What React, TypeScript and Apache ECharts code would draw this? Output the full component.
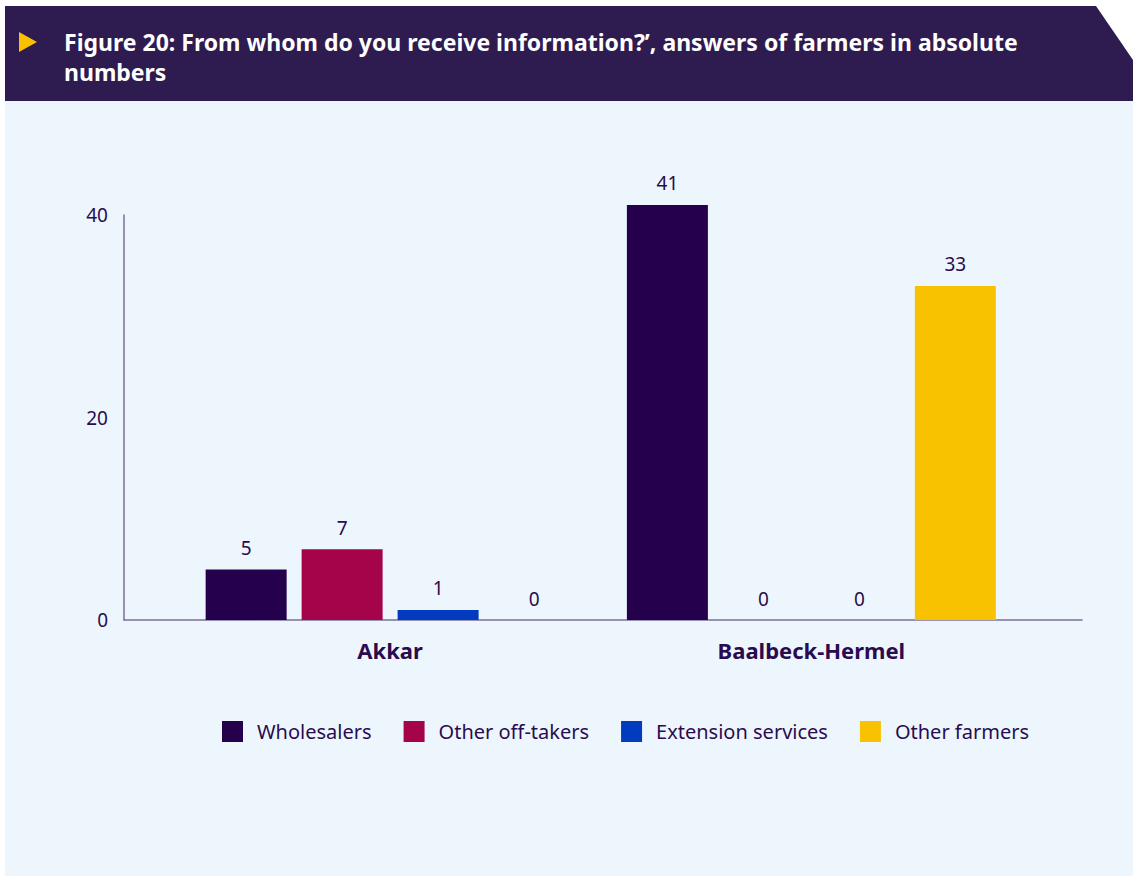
import React, { useEffect, useRef } from "react";
import * as echarts from "echarts";

const regions = ["Akkar", "Baalbeck-Hermel"];
const seriesNames = ["Wholesalers", "Other off-takers", "Extension services", "Other farmers"];
const wholesalers = [5, 41];
const otherOffTakers = [7, 0];
const extensionServices = [1, 0];
const otherFarmers = [0, 33];
const seriesColors = ["#25004c", "#a5044a", "#003cbd", "#f9c200"];
const yTicks = { min: 0, max: 40, interval: 20 };
const titleLines = [
  "Figure 20: From whom do you receive information?’, answers of farmers in absolute",
  "numbers",
];

const TEXT = "#2a0b50";
const FONT = "'Noto Sans', 'Open Sans', sans-serif";

export default function App() {
  const ref = useRef<HTMLDivElement>(null);
  useEffect(() => {
    document.body.style.margin = "0";
    const chart = echarts.init(ref.current!, null, { renderer: "svg" });
    const values = [wholesalers, otherOffTakers, extensionServices, otherFarmers];
    chart.setOption({
      animation: false,
      backgroundColor: "#ffffff",
      textStyle: { fontFamily: FONT },
      graphic: [
        {
          type: "rect",
          z: -10,
          shape: { x: 5, y: 100, width: 1128, height: 776 },
          style: { fill: "#eef6fd" },
        },
        {
          type: "polygon",
          z: -10,
          shape: { points: [[5, 6], [1096, 6], [1133, 60], [1133, 101], [5, 101]] },
          style: { fill: "#2e1b4f" },
        },
        {
          type: "polygon",
          shape: { points: [[19, 32], [37, 42], [19, 52]] },
          style: { fill: "#f9c200" },
        },
        ...titleLines.map((t, i) => ({
          type: "text",
          x: 64,
          y: 42 + i * 30,
          style: {
            text: t,
            fill: "#ffffff",
            font: `bold 23px ${FONT}`,
            verticalAlign: "middle",
            align: "left",
          },
        })),
      ],
      legend: {
        left: 217,
        top: 716,
        itemWidth: 21,
        itemHeight: 21,
        itemGap: 32,
        icon: "rect",
        data: seriesNames,
        textStyle: { fontSize: 20, color: TEXT, fontFamily: FONT, padding: [0, 0, 0, 9] },
      },
      grid: [
        { left: 124, right: 51, top: 215, bottom: 256 },
        { left: 179.5, right: 111, top: 215, bottom: 256 },
      ],
      xAxis: [
        {
          type: "category",
          gridIndex: 0,
          data: regions,
          axisLine: { show: true, lineStyle: { color: "#7a6f9a", width: 1.5 } },
          axisTick: { show: false },
          axisLabel: { show: false },
        },
        {
          type: "category",
          gridIndex: 1,
          data: regions,
          axisLine: { show: false },
          axisTick: { show: false },
          axisLabel: {
            margin: 19,
            fontSize: 22,
            fontWeight: "bold",
            color: TEXT,
            fontFamily: FONT,
          },
        },
      ],
      yAxis: [
        {
          type: "value",
          gridIndex: 0,
          min: yTicks.min,
          max: yTicks.max,
          interval: yTicks.interval,
          axisLine: { show: true, lineStyle: { color: "#7a6f9a", width: 1.5 } },
          axisTick: { show: false },
          splitLine: { show: false },
          axisLabel: { margin: 16, fontSize: 19, color: TEXT, fontFamily: FONT },
        },
        {
          type: "value",
          gridIndex: 1,
          min: yTicks.min,
          max: yTicks.max,
          interval: yTicks.interval,
          show: false,
          splitLine: { show: false },
        },
      ],
      series: seriesNames.map((name, i) => ({
        name,
        type: "bar",
        xAxisIndex: 1,
        yAxisIndex: 1,
        data: values[i],
        barWidth: 81,
        barGap: "18.5%",
        clip: false,
        itemStyle: { color: seriesColors[i] },
        label: {
          show: true,
          position: "top",
          distance: 12,
          fontSize: 19,
          color: TEXT,
          fontFamily: FONT,
        },
      })),
    });
    return () => chart.dispose();
  }, []);
  return <div ref={ref} style={{ width: 1133, height: 876 }} />;
}
